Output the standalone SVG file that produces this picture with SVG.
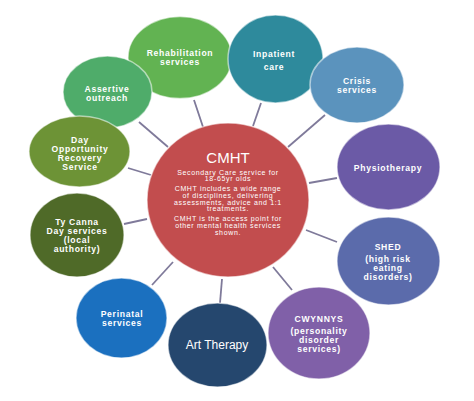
<svg xmlns="http://www.w3.org/2000/svg" width="474" height="401" viewBox="0 0 474 401">
<style>
.node{stroke:#ffffff;stroke-opacity:0.55;stroke-width:1.5}
.lbl{font-family:"Liberation Sans",Arial,sans-serif;font-size:8.6px;font-weight:bold;fill:#ffffff;text-anchor:middle;letter-spacing:0.7px}
.big{font-family:"Liberation Sans",Arial,sans-serif;font-size:12px;fill:#ffffff;text-anchor:middle}
.title{font-family:"Liberation Sans",Arial,sans-serif;font-size:15px;fill:#ffffff;text-anchor:middle}
.body{font-family:"Liberation Sans",Arial,sans-serif;font-size:7px;fill:#ffffff;text-anchor:middle;letter-spacing:0.65px}
.conn line{stroke:#7f7a9a;stroke-width:1.8}
</style>
<rect width="474" height="401" fill="#ffffff"/>
<g id="connectors" class="conn">
<line x1="194" y1="100" x2="203" y2="127"/>
<line x1="261" y1="103" x2="253" y2="126"/>
<line x1="325" y1="115" x2="288" y2="147"/>
<line x1="337" y1="178" x2="309" y2="183"/>
<line x1="337" y1="242" x2="306" y2="230"/>
<line x1="292" y1="290" x2="273" y2="267"/>
<line x1="222" y1="279" x2="220" y2="303"/>
<line x1="173" y1="262" x2="152" y2="285"/>
<line x1="147" y1="219" x2="124" y2="224"/>
<line x1="151" y1="175" x2="128" y2="168"/>
<line x1="168" y1="147" x2="139" y2="122"/>
</g>
<g id="rehab">
<ellipse class="node" cx="180" cy="57.5" rx="52" ry="41" fill="#62b352"/>
<text class="lbl" x="180" y="55.5">Rehabilitation</text>
<text class="lbl" x="180" y="64.5">services</text>
</g>
<g id="assertive">
<ellipse class="node" cx="107.5" cy="92" rx="44.5" ry="36" fill="#4fac6a"/>
<text class="lbl" x="107" y="91.5">Assertive</text>
<text class="lbl" x="107" y="100.5">outreach</text>
</g>
<g id="dayopp">
<ellipse class="node" cx="79.5" cy="151.5" rx="50.5" ry="35.5" fill="#6d9336"/>
<text class="lbl" x="80" y="142.5">Day</text>
<text class="lbl" x="80" y="151.5">Opportunity</text>
<text class="lbl" x="80" y="160.5">Recovery</text>
<text class="lbl" x="80" y="169.5">Service</text>
</g>
<g id="inpatient">
<ellipse class="node" cx="275.5" cy="59" rx="47.5" ry="44" fill="#2e8a9c"/>
<text class="lbl" x="274" y="56.5">Inpatient</text>
<text class="lbl" x="274" y="69.5">care</text>
</g>
<g id="crisis">
<ellipse class="node" cx="357" cy="85" rx="47" ry="38" fill="#5b93bd"/>
<text class="lbl" x="357" y="83.5">Crisis</text>
<text class="lbl" x="357" y="92.5">services</text>
</g>
<g id="physio">
<ellipse class="node" cx="388.5" cy="167" rx="51.5" ry="43" fill="#6b5aa6"/>
<text class="lbl" x="388" y="170.5">Physiotherapy</text>
</g>
<g id="shed">
<ellipse class="node" cx="388.5" cy="261" rx="51.5" ry="44" fill="#5b6bab"/>
<text class="lbl" x="388" y="249.5">SHED</text>
<text class="lbl" x="388" y="261.5">(high risk</text>
<text class="lbl" x="388" y="270.5">eating</text>
<text class="lbl" x="388" y="279.5">disorders)</text>
</g>
<g id="cwynnys">
<ellipse class="node" cx="319" cy="333" rx="51" ry="46" fill="#8060a8"/>
<text class="lbl" x="319" y="321.5">CWYNNYS</text>
<text class="lbl" x="319" y="333.5">(personality</text>
<text class="lbl" x="319" y="342.5">disorder</text>
<text class="lbl" x="319" y="351.5">services)</text>
</g>
<g id="art">
<ellipse class="node" cx="217.5" cy="345" rx="49.5" ry="42" fill="#25476e"/>
<text class="big" x="217" y="348.5">Art Therapy</text>
</g>
<g id="perinatal">
<ellipse class="node" cx="121.5" cy="318" rx="45.5" ry="40" fill="#1b70bf"/>
<text class="lbl" x="122" y="316.5">Perinatal</text>
<text class="lbl" x="122" y="325.5">services</text>
</g>
<g id="tycanna">
<ellipse class="node" cx="77" cy="235" rx="47" ry="42" fill="#4f6a28"/>
<text class="lbl" x="77" y="225">Ty Canna</text>
<text class="lbl" x="77" y="234">Day services</text>
<text class="lbl" x="77" y="243">(local</text>
<text class="lbl" x="77" y="252">authority)</text>
</g>
<g id="cmht">
<ellipse class="node" cx="228" cy="200" rx="81" ry="77" fill="#c24d4e"/>
<text class="title" x="228" y="162.5">CMHT</text>
<text class="body" x="228" y="174.5">Secondary Care service for</text>
<text class="body" x="228" y="180.5">18-65yr olds</text>
<text class="body" x="228" y="190.5">CMHT includes a wide range</text>
<text class="body" x="228" y="197.5">of disciplines, delivering</text>
<text class="body" x="228" y="204.5">assessments, advice and 1:1</text>
<text class="body" x="228" y="211">treatments.</text>
<text class="body" x="228" y="220.5">CMHT is the access point for</text>
<text class="body" x="228" y="227.5">other mental health services</text>
<text class="body" x="228" y="234.5">shown.</text>
</g>
</svg>
